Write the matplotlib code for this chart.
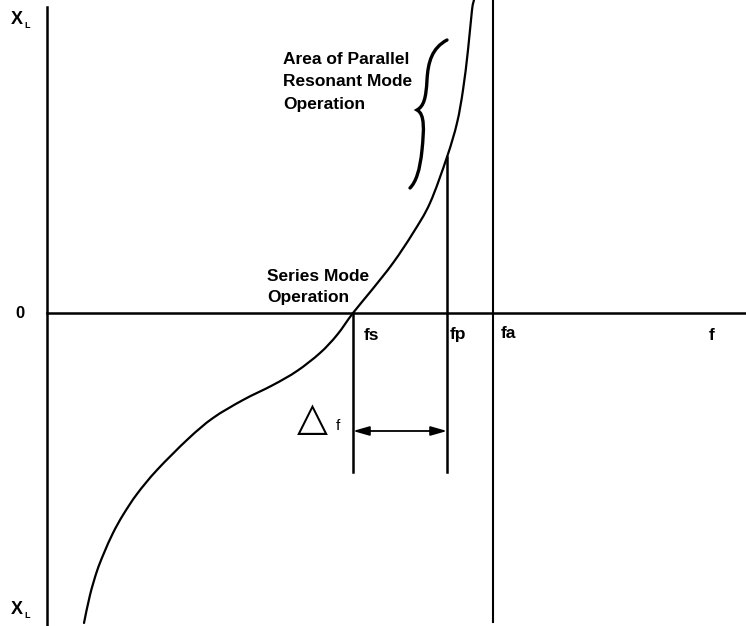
import numpy as np
import matplotlib.pyplot as plt
from matplotlib.path import Path
from matplotlib.patches import PathPatch

plt.rcParams['font.family'] = ['Liberation Sans', 'DejaVu Sans']

# reactance curve of the crystal (frequency, reactance)
freq = [37, 43, 50, 57, 66, 76, 90, 110, 141, 166, 196, 226, 250, 273, 290,
        306, 324, 346, 366, 383, 400, 410, 416, 421, 425, 427]
react = [-310, -282, -258, -240, -220, -202, -181, -157, -126, -105, -87, -72,
         -58, -40, -22, 0, 22, 50, 80, 110, 156, 190, 223, 263, 303, 313]

fs = 306   # series resonance
fp = 400   # parallel (load) resonance
fa = 446   # anti-resonance
fp_react = 156
marker_bottom = -159
arrow_level = -118


def smooth_path(xs, ys):
    # draw the read points as one smooth bezier path (catmull-rom style)
    pts = np.column_stack([xs, ys]).astype(float)
    verts = [pts[0]]
    codes = [Path.MOVETO]
    for i in range(len(pts) - 1):
        p0 = pts[max(i - 1, 0)]
        p1 = pts[i]
        p2 = pts[i + 1]
        p3 = pts[min(i + 2, len(pts) - 1)]
        verts += [p1 + (p2 - p0) / 6, p2 - (p3 - p1) / 6, p2]
        codes += [Path.CURVE4] * 3
    return Path(verts, codes)


fig = plt.figure(figsize=(7.46, 6.26), dpi=100)
ax = fig.add_axes([0, 0, 1, 1])
ax.set_xlim(-47, 699)
ax.set_ylim(-313, 313)
ax.axis('off')

lw_axis = 1.8
# axes
ax.plot([0, 0], [306, -313], color='black', lw=lw_axis)
ax.plot([0, 699], [0, 0], color='black', lw=lw_axis)

# curve
ax.add_patch(PathPatch(smooth_path(freq, react), fill=False, lw=1.6, capstyle='round'))

# vertical markers
ax.plot([fs, fs], [0, marker_bottom], color='black', lw=lw_axis)
ax.plot([fp, fp], [fp_react, marker_bottom], color='black', lw=lw_axis)
ax.plot([fa, fa], [313, -309], color='black', lw=1.5)

# delta f arrow
ax.annotate('', xy=(fp, arrow_level), xytext=(fs, arrow_level),
            arrowprops=dict(arrowstyle='<|-|>,head_length=0.7,head_width=0.2',
                            color='black', lw=1.3,
                            mutation_scale=14, shrinkA=0, shrinkB=0))
ax.text(fs - 41, arrow_level + 12, '\u25B3', fontsize=29, family='DejaVu Sans',
        fontweight='bold', ha='center', va='center')
ax.text(fs - 15, arrow_level + 5, 'f', fontsize=11, ha='center', va='center')

# brace for the parallel resonant area
verts = [(400, 273),
         (385, 265), (381, 251), (380, 233),
         (379, 215), (377, 207), (370, 203),
         (378, 199), (377, 183), (375, 163),
         (373, 143), (369, 131), (363, 125)]
codes = [Path.MOVETO] + [Path.CURVE4] * 12
ax.add_patch(PathPatch(Path(verts, codes), fill=False, lw=2.4, capstyle='round'))

# labels
fkw = dict(fontsize=12.5, fontweight='bold', color='black')
ax.text(236, 231, 'Area of Parallel\nResonant Mode\nOperation', ha='left', va='center',
        linespacing=1.6, **fkw)
ax.text(220, 26, 'Series Mode\nOperation', ha='left', va='center', linespacing=1.5, **fkw)
ax.text(-27, 0, '0', ha='center', va='center', fontsize=12, fontweight='bold')
ax.text(fs + 19, -23, 'fs', ha='center', va='center', **fkw)
ax.text(fp + 11, -21, 'fp', ha='center', va='center', **fkw)
ax.text(fa + 15, -21, 'fa', ha='center', va='center', **fkw)
ax.text(665, -23, 'f', ha='center', va='center', **fkw)
for yy in (293, -297):
    ax.text(-30, yy, 'X', ha='center', va='center', fontsize=13, fontweight='bold')
    ax.text(-20, yy - 5, 'L', ha='center', va='center', fontsize=6.5, fontweight='bold')

fig.savefig('out.png', dpi=100)
